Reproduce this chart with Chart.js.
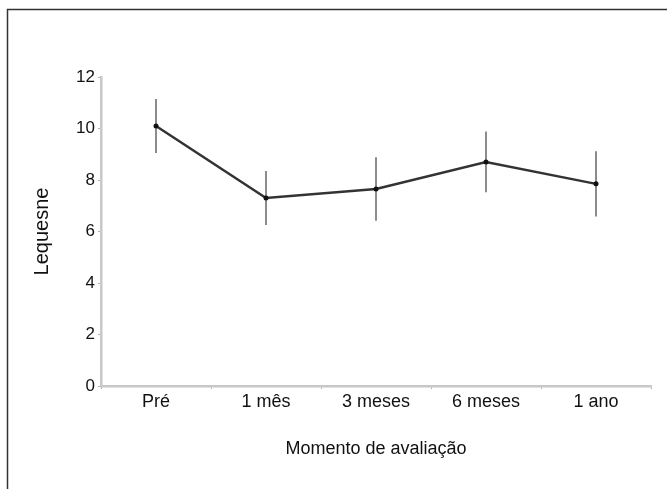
<!DOCTYPE html>
<html>
<head>
<meta charset="utf-8">
<style>
  html, body { margin: 0; padding: 0; background: #ffffff; }
  #wrap { width: 667px; height: 489px; position: relative; }
  canvas { display: block; }
</style>
<script src="https://cdn.jsdelivr.net/npm/chart.js@4/dist/chart.umd.min.js"></script>
</head>
<body>
<div id="wrap"><canvas id="chart" width="667" height="489"></canvas></div>
<script>
// Lequesne index by assessment time: mean and standard deviation
const categories = ['Pré', '1 mês', '3 meses', '6 meses', '1 ano'];
const meanScores = [10.1, 7.3, 7.65, 8.7, 7.85];
const sdScores = [1.05, 1.05, 1.23, 1.18, 1.27];
const yTicks = [0, 2, 4, 6, 8, 10, 12];

const FONT = '"Liberation Sans", Arial, Helvetica, sans-serif';

// Vertical error bars (mean ± sd), drawn under the line
const errorBars = {
  id: 'errorBars',
  beforeDatasetsDraw(chart) {
    const { ctx, scales } = chart;
    const meta = chart.getDatasetMeta(0);
    ctx.save();
    ctx.strokeStyle = '#8c8c8c';
    ctx.lineWidth = 2;
    meta.data.forEach((pt, i) => {
      const yTop = scales.y.getPixelForValue(meanScores[i] + sdScores[i]);
      const yBot = scales.y.getPixelForValue(meanScores[i] - sdScores[i]);
      ctx.beginPath();
      ctx.moveTo(pt.x, yTop);
      ctx.lineTo(pt.x, yBot);
      ctx.stroke();
    });
    ctx.restore();
  }
};

// Thin frame along the top and left edges of the figure
const frame = {
  id: 'frame',
  afterDraw(chart) {
    const { ctx, width, height } = chart;
    ctx.save();
    ctx.strokeStyle = '#333333';
    ctx.lineWidth = 1.5;
    ctx.beginPath();
    ctx.moveTo(7.5, height);
    ctx.lineTo(7.5, 9.5);
    ctx.lineTo(width, 9.5);
    ctx.stroke();
    ctx.restore();
  }
};

new Chart(document.getElementById('chart'), {
  type: 'line',
  data: {
    labels: categories,
    datasets: [{
      data: meanScores,
      borderColor: '#333333',
      borderWidth: 2.5,
      pointRadius: 2.5,
      pointBackgroundColor: '#111111',
      pointBorderColor: '#111111',
      pointBorderWidth: 0,
      tension: 0,
      clip: false
    }]
  },
  options: {
    responsive: false,
    animation: false,
    devicePixelRatio: 1,
    layout: { padding: { left: 0, right: 16, top: 77, bottom: 0 } },
    plugins: {
      legend: { display: false },
      tooltip: { enabled: false }
    },
    scales: {
      x: {
        type: 'category',
        offset: true,
        afterFit(scale) { scale.height = 103; },
        border: { display: true, color: '#c8c8c8', width: 2.5 },
        grid: {
          display: true,
          offset: true,
          drawOnChartArea: false,
          drawTicks: true,
          tickLength: 3,
          color: '#a8a8a8'
        },
        ticks: {
          color: '#111111',
          padding: 2,
          maxRotation: 0,
          font: { family: FONT, size: 18 }
        },
        title: {
          display: true,
          text: 'Momento de avaliação',
          color: '#111111',
          font: { family: FONT, size: 18 },
          padding: { top: 0, bottom: 29 }
        }
      },
      y: {
        type: 'linear',
        min: 0,
        max: 12,
        afterFit(scale) { scale.width = 101; },
        afterBuildTicks(scale) { scale.ticks = yTicks.map(v => ({ value: v })); },
        border: { display: true, color: '#c8c8c8', width: 2.5 },
        grid: {
          display: true,
          drawOnChartArea: false,
          drawTicks: true,
          tickLength: 3,
          color: '#b0b0b0'
        },
        ticks: {
          color: '#111111',
          padding: 3,
          font: { family: FONT, size: 17 }
        },
        title: {
          display: true,
          text: 'Lequesne',
          color: '#111111',
          font: { family: FONT, size: 20 },
          padding: { top: 30, bottom: 0 }
        }
      }
    }
  },
  plugins: [errorBars, frame]
});
</script>
</body>
</html>
